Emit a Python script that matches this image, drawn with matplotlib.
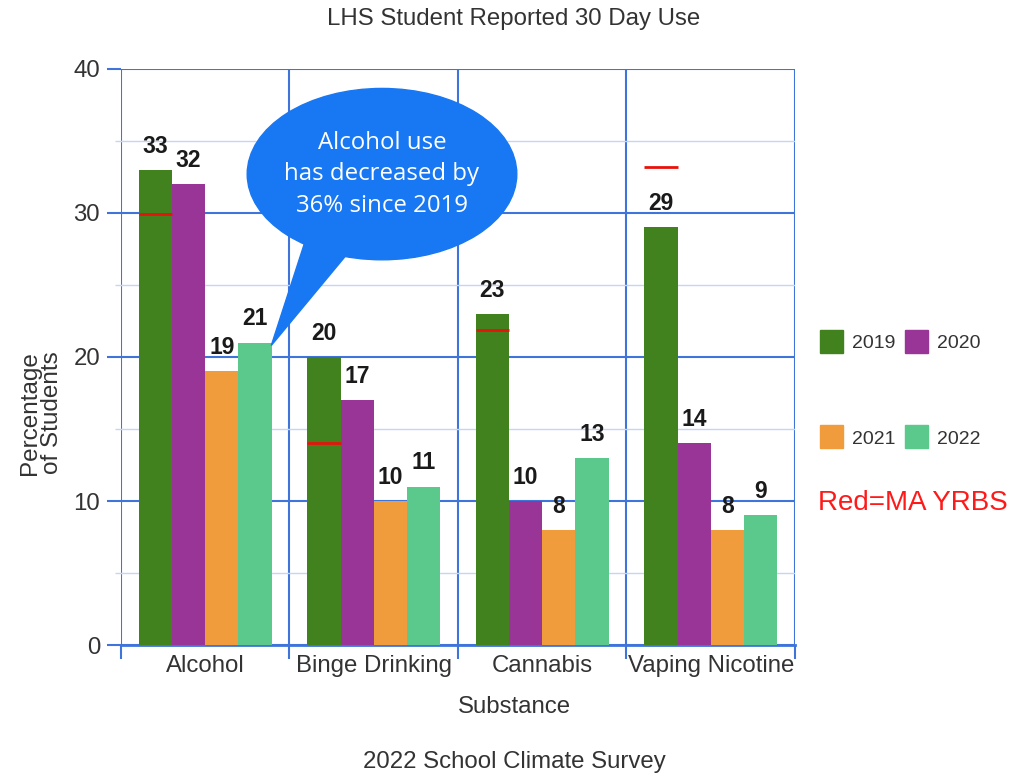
import matplotlib.pyplot as plt
from matplotlib.patches import Ellipse, Polygon, Rectangle

plt.rcParams["font.family"] = ["Liberation Sans", "DejaVu Sans"]

# ── data ─────────────────────────────────────────────
substances = ["Alcohol", "Binge Drinking", "Cannabis", "Vaping Nicotine"]
years = ["2019", "2020", "2021", "2022"]
use_2019 = [33, 20, 23, 29]
use_2020 = [32, 17, 10, 14]
use_2021 = [19, 10, 8, 8]
use_2022 = [21, 11, 13, 9]
ma_yrbs = [29.9, 14.0, 21.9, 33.2]

COLORS = ["#41821F", "#983597", "#F09C3C", "#5BC88C"]
GRID = "#3F74DA"
MINOR = "#C6D5F4"
TXT = "#333333"
FS = 17.3

fig = plt.figure(figsize=(10.27, 7.76), dpi=100)
ax = fig.add_axes([0.1178, 0.1688, 0.6563, 0.7423])

series = [use_2019, use_2020, use_2021, use_2022]
w = 0.197
x = list(range(len(substances)))
for i, vals in enumerate(series):
    off = (i - 1.5) * w
    xs = [xi + off for xi in x]
    ax.bar(xs, vals, width=w, color=COLORS[i], edgecolor="none", zorder=3)
    for xi, v in zip(xs, vals):
        ax.text(xi, v + 0.85, str(v), ha="center", va="bottom",
                fontsize=16.5, fontweight="bold", color="#1A1A1A", zorder=5)

# MA YRBS reference marks on the 2019 bars
for xi, v in zip(x, ma_yrbs):
    ax.hlines(v, xi - 2 * w, xi - w, color="#E8120C", linewidth=2, zorder=4)

ax.set_xlim(-0.5, len(substances) - 0.5)
ax.set_ylim(0, 40)
ax.set_yticks([0, 10, 20, 30, 40])
ax.set_yticks([5, 15, 25, 35], minor=True)
ax.set_xticks([b - 0.5 for b in range(len(substances) + 1)])
ax.set_xticklabels([])
ax.set_xticks(x, minor=True)
ax.set_xticklabels(substances, minor=True, fontsize=FS, color=TXT)
ax.tick_params(axis="x", which="minor", length=0, pad=7)
ax.tick_params(axis="x", which="major", length=10, color=GRID, width=1.5)
ax.tick_params(axis="y", which="major", length=10, color=GRID, width=1.5,
               labelsize=FS, labelcolor=TXT, pad=5)
ax.tick_params(axis="y", which="minor", length=4, color=MINOR, width=1)

ax.grid(axis="y", which="major", color=GRID, linewidth=1.5, zorder=1)
ax.grid(axis="y", which="minor", color=MINOR, linewidth=1, zorder=1)
ax.grid(axis="x", which="major", color=GRID, linewidth=1.5, zorder=1)
for s in ["top", "right", "left"]:
    ax.spines[s].set_visible(False)
ax.spines["bottom"].set_color(GRID)
ax.spines["bottom"].set_linewidth(2)

fig.text(514 / 1027, 1 - 19 / 776, "LHS Student Reported 30 Day Use", ha="center",
         va="center", fontsize=FS, color=TXT)
fig.text(514 / 1027, 1 - 707 / 776, "Substance", ha="center", va="center",
         fontsize=FS, color=TXT)
fig.text(514 / 1027, 1 - 762 / 776, "2022 School Climate Survey", ha="center",
         va="center", fontsize=FS, color=TXT)
fig.text(41 / 1027, 1 - 413 / 776, "Percentage\nof Students", ha="center", va="center",
         rotation=90, fontsize=17.5, color=TXT, linespacing=1.05)

# ── callout bubble ───────────────────────────────────
BLUE = "#1877F2"
ax.add_patch(Ellipse((1.049, 32.7), 1.60, 11.9, color=BLUE, zorder=6, clip_on=False))
ax.add_patch(Polygon([(0.60, 28.3), (0.86, 27.4), (0.392, 20.8)], closed=True,
                     color=BLUE, zorder=6, clip_on=False))
ax.text(1.049, 32.7, "Alcohol use\nhas decreased by\n36% since 2019", ha="center",
        va="center", fontsize=17.3, color="white", linespacing=1.42, zorder=7,
        family=["Open Sans", "DejaVu Sans"])

# ── legend ───────────────────────────────────────────
lx = [820, 905, 820, 905]
ly = [330, 330, 425, 425]
for i, yr in enumerate(years):
    fig.patches.append(Rectangle((lx[i] / 1027, 1 - (ly[i] + 23) / 776), 23 / 1027, 23 / 776,
                                 transform=fig.transFigure, color=COLORS[i]))
    fig.text((lx[i] + 32) / 1027, 1 - (ly[i] + 14) / 776, yr, ha="left", va="center",
             fontsize=14, color=TXT)
fig.text(818 / 1027, 1 - 503 / 776, "Red=MA YRBS", ha="left", va="center",
         fontsize=20, color="#FF1A1A")

fig.savefig("out.png", dpi=100)
